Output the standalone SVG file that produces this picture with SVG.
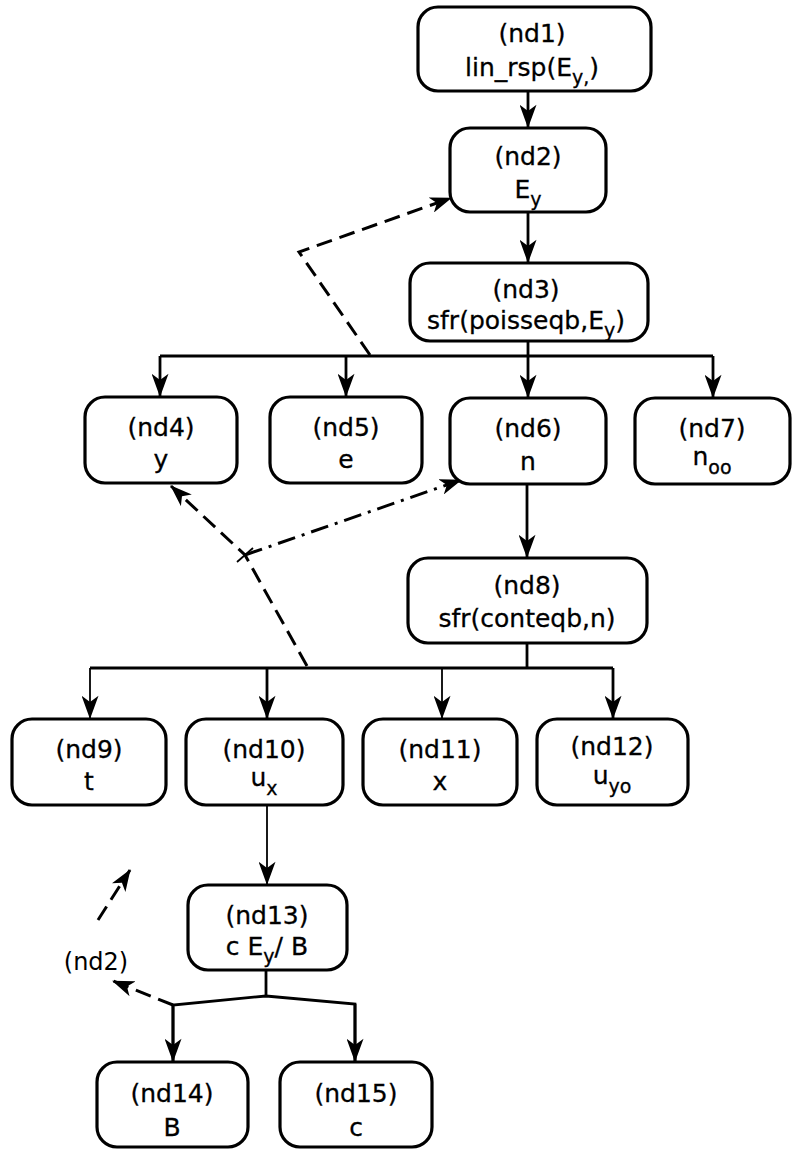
<svg xmlns="http://www.w3.org/2000/svg" width="793" height="1153" viewBox="0 0 793 1153">
<style>
.box{fill:#fff;stroke:#000;stroke-width:3.2}
.t{font-family:"DejaVu Sans","Liberation Sans",sans-serif;font-size:25px;fill:#000;stroke:#000;stroke-width:0.3;text-anchor:middle}
.sub{font-size:19px}
.c{fill:none;stroke:#000;stroke-width:2.8}
.thin{fill:none;stroke:#000;stroke-width:1.8}
.d{fill:none;stroke:#000;stroke-width:3;stroke-dasharray:16 8}
.dd{fill:none;stroke:#000;stroke-width:3;stroke-dasharray:18 7 3 7}
.lbl{font-family:"DejaVu Sans","Liberation Sans",sans-serif;font-size:24px;fill:#000;text-anchor:middle}
</style>
<defs>
<marker id="ah" markerUnits="userSpaceOnUse" viewBox="0 0 22 16" markerWidth="24" markerHeight="17" refX="21" refY="8" orient="auto">
<path d="M0,0 L22,8 L0,16 L6,8 z" fill="#000"/>
</marker>
<marker id="ahd" markerUnits="userSpaceOnUse" viewBox="0 0 22 16" markerWidth="22" markerHeight="16" refX="21" refY="8" orient="auto">
<path d="M0,0 L22,8 L0,16 L6,8 z" fill="#000"/>
</marker>
</defs>
<rect width="793" height="1153" fill="#fff"/>

<g id="connectors">
<line class="c" x1="528" y1="92" x2="528" y2="127" marker-end="url(#ah)"/>
<line class="c" x1="528" y1="212" x2="528" y2="262" marker-end="url(#ah)"/>
<polyline class="c" points="528,341 528,356"/>
<polyline class="c" points="160,356 713,356"/>
<line class="c" x1="160" y1="356" x2="160" y2="396" marker-end="url(#ah)"/>
<line class="c" x1="346" y1="356" x2="346" y2="396" marker-end="url(#ah)"/>
<line class="c" x1="528" y1="356" x2="528" y2="397" marker-end="url(#ah)"/>
<line class="c" x1="713" y1="356" x2="713" y2="397" marker-end="url(#ah)"/>
<line class="c" x1="527" y1="484" x2="527" y2="557" marker-end="url(#ah)"/>
<polyline class="c" points="527,643 527,668"/>
<polyline class="c" points="90,668 613,668"/>
<line class="thin" x1="90" y1="668" x2="90" y2="718" marker-end="url(#ah)"/>
<line class="c" x1="267" y1="668" x2="267" y2="718" marker-end="url(#ah)"/>
<line class="thin" x1="442" y1="668" x2="442" y2="718" marker-end="url(#ah)"/>
<line class="c" x1="613" y1="668" x2="613" y2="718" marker-end="url(#ah)"/>
<line class="thin" x1="267" y1="805" x2="267" y2="884" marker-end="url(#ah)"/>
<polyline class="c" points="266,970 266,996"/>
<polyline class="c" points="173,1061 173,1005 266,996 355,1004 355,1061"/>
<line class="c" x1="173" y1="1005" x2="173" y2="1061" marker-end="url(#ah)"/>
<line class="c" x1="355" y1="1004" x2="355" y2="1061" marker-end="url(#ah)"/>
<polyline class="d" points="370,355 299,252 451,198" marker-end="url(#ahd)"/>
<polyline class="d" points="307,666 245,555 171,486" marker-end="url(#ahd)"/>
<line class="dd" x1="245" y1="555" x2="461" y2="480" marker-end="url(#ahd)"/>
<line class="thin" x1="237" y1="562" x2="253" y2="548"/>
<line class="d" x1="173" y1="1005" x2="113" y2="981" marker-end="url(#ahd)"/>
<line class="d" x1="98" y1="920" x2="130" y2="870" marker-end="url(#ahd)"/>
<text class="lbl" x="96" y="970">(nd2)</text>
</g>

<g id="nd1"><rect class="box" x="418" y="7" width="233" height="84" rx="20"/>
<text class="t" x="532" y="42">(nd1)</text>
<text class="t" x="532" y="76">lin_rsp(E<tspan class="sub" dy="8">y,</tspan><tspan dy="-8">)</tspan></text></g>
<g id="nd2"><rect class="box" x="450" y="128" width="156" height="84" rx="20"/>
<text class="t" x="528" y="165">(nd2)</text>
<text class="t" x="528" y="198">E<tspan class="sub" dy="8">y</tspan></text></g>
<g id="nd3"><rect class="box" x="410" y="263" width="238" height="78" rx="20"/>
<text class="t" x="526" y="298">(nd3)</text>
<text class="t" x="526" y="329">sfr(poisseqb,E<tspan class="sub" dy="8">y</tspan><tspan dy="-8">)</tspan></text></g>
<g id="nd4"><rect class="box" x="85" y="397" width="152" height="86" rx="20"/>
<text class="t" x="161" y="436">(nd4)</text>
<text class="t" x="161" y="468">y</text></g>
<g id="nd5"><rect class="box" x="270" y="397" width="152" height="86" rx="20"/>
<text class="t" x="346" y="436">(nd5)</text>
<text class="t" x="346" y="468">e</text></g>
<g id="nd6"><rect class="box" x="450" y="398" width="156" height="86" rx="20"/>
<text class="t" x="528" y="437">(nd6)</text>
<text class="t" x="528" y="470">n</text></g>
<g id="nd7"><rect class="box" x="635" y="398" width="155" height="86" rx="20"/>
<text class="t" x="712" y="437">(nd7)</text>
<text class="t" x="712" y="465">n<tspan class="sub" dy="9">oo</tspan></text></g>
<g id="nd8"><rect class="box" x="408" y="558" width="239" height="85" rx="20"/>
<text class="t" x="527" y="594">(nd8)</text>
<text class="t" x="527" y="627">sfr(conteqb,n)</text></g>
<g id="nd9"><rect class="box" x="12" y="719" width="154" height="86" rx="20"/>
<text class="t" x="89" y="758">(nd9)</text>
<text class="t" x="89" y="790">t</text></g>
<g id="nd10"><rect class="box" x="186" y="719" width="157" height="86" rx="20"/>
<text class="t" x="264" y="758">(nd10)</text>
<text class="t" x="264" y="786">u<tspan class="sub" dy="9">x</tspan></text></g>
<g id="nd11"><rect class="box" x="363" y="719" width="154" height="86" rx="20"/>
<text class="t" x="440" y="758">(nd11)</text>
<text class="t" x="440" y="790">x</text></g>
<g id="nd12"><rect class="box" x="537" y="719" width="151" height="86" rx="20"/>
<text class="t" x="612" y="755">(nd12)</text>
<text class="t" x="612" y="784">u<tspan class="sub" dy="9">yo</tspan></text></g>
<g id="nd13"><rect class="box" x="188" y="885" width="159" height="85" rx="20"/>
<text class="t" x="267" y="924">(nd13)</text>
<text class="t" x="267" y="955">c E<tspan class="sub" dy="8">y</tspan><tspan dy="-8">/ B</tspan></text></g>
<g id="nd14"><rect class="box" x="97" y="1062" width="151" height="85" rx="20"/>
<text class="t" x="172" y="1102">(nd14)</text>
<text class="t" x="172" y="1136">B</text></g>
<g id="nd15"><rect class="box" x="280" y="1062" width="152" height="85" rx="20"/>
<text class="t" x="356" y="1102">(nd15)</text>
<text class="t" x="356" y="1136">c</text></g>
</svg>
